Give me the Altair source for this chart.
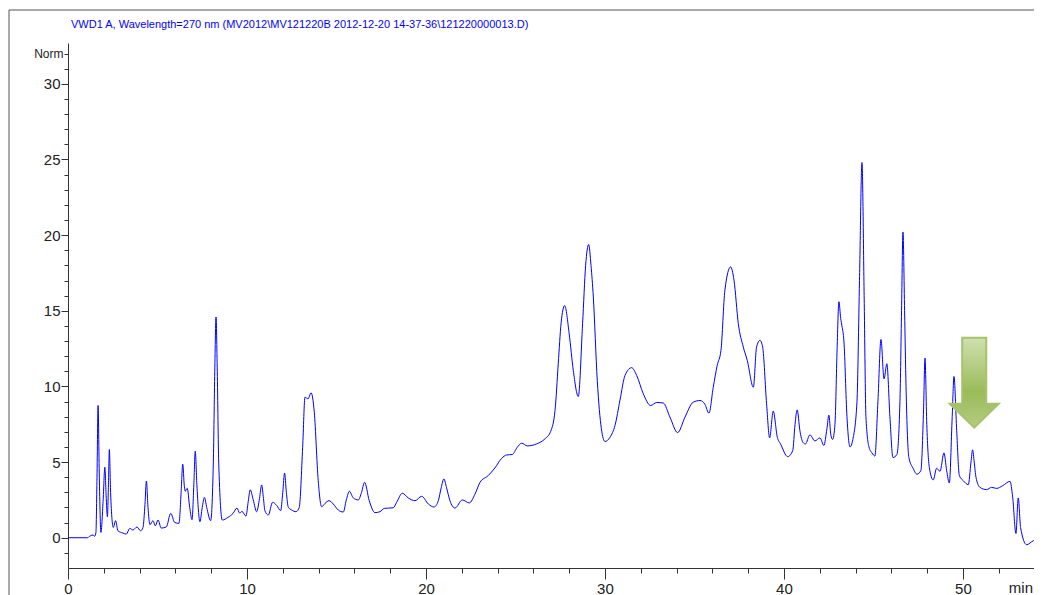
import altair as alt
import pandas as pd

# ---- chromatogram ----
time_min = [0.0, 1.1, 1.21, 1.40, 1.49, 1.56, 1.62, 1.68, 1.75, 1.84, 1.96, 2.06, 2.13, 2.2, 2.26, 2.31,
            2.38, 2.46, 2.53, 2.66, 2.79, 3.07, 3.26, 3.45, 3.63, 3.85, 4.06, 4.19, 4.30, 4.38, 4.47,
            4.58, 4.75, 4.88, 5.03, 5.21, 5.49, 5.74, 5.96, 6.2, 6.32, 6.41, 6.50, 6.55, 6.66, 6.80,
            6.93, 7.03, 7.11, 7.20, 7.37, 7.50, 7.62, 7.75, 7.97, 8.12, 8.20, 8.27, 8.34, 8.42, 8.62,
            8.94, 9.22, 9.44, 9.59, 9.72, 9.94, 10.07, 10.18, 10.35, 10.54, 10.70, 10.82, 10.92, 11.0,
            11.19, 11.43, 11.66, 11.88, 12.0, 12.1, 12.2, 12.31, 12.5, 12.74, 12.92, 13.11, 13.24,
            13.41, 13.58, 13.76, 13.98, 14.17, 14.36, 14.58, 14.82, 15.1, 15.38, 15.55, 15.72, 15.94,
            16.22, 16.40, 16.57, 16.83, 17.15, 17.43, 17.67, 18.17, 18.36, 18.68, 19.01, 19.39, 19.76,
            20.13, 20.45, 20.69, 20.85, 21.0, 21.15, 21.34, 21.62, 22.03, 22.42, 22.74, 23.02, 23.48,
            23.85, 24.23, 24.51, 24.82, 25.1, 25.35, 25.66, 26.18, 26.65, 26.97, 27.21, 27.39, 27.55,
            27.75, 28.0, 28.23, 28.51, 28.75, 28.92, 29.09, 29.22, 29.35, 29.57, 29.8, 30.0, 30.28,
            30.56, 30.84, 31.12, 31.49, 31.77, 32.14, 32.55, 32.89, 33.26, 33.63, 34.06, 34.47, 34.93,
            35.31, 35.59, 35.81, 36.05, 36.27, 36.48, 36.7, 37.02, 37.21, 37.45, 37.73, 37.95, 38.29,
            38.47, 38.66, 38.81, 39.03, 39.2, 39.4, 39.63, 39.81, 40.21, 40.49, 40.62, 40.74, 40.89,
            41.06, 41.2, 41.45, 41.73, 42.01, 42.23, 42.40, 42.51, 42.62, 42.72, 42.85, 42.97, 43.07,
            43.17, 43.24, 43.35, 43.52, 43.69, 43.85, 44.08, 44.22, 44.36, 44.48, 44.58, 44.75, 44.92,
            45.08, 45.25, 45.42, 45.59, 45.75, 45.92, 46.09, 46.31, 46.48, 46.57, 46.65, 46.74, 46.82,
            46.98, 47.21, 47.43, 47.65, 47.80, 47.88, 47.98, 48.12, 48.34, 48.53, 48.72, 48.94, 49.09,
            49.24, 49.40, 49.5, 49.65, 49.8, 50.02, 50.3, 50.45, 50.54, 50.63, 50.73, 50.95, 51.32,
            51.6, 51.88, 52.22, 52.63, 52.78, 52.96, 53.09, 53.22, 53.56, 53.93, 54.4]
signal = [0.0, 0.0, 0.1, 0.18, 0.1, 0.35, 4.0, 8.74, 4.0, 0.35, 2.4, 4.66, 2.8, 1.39, 3.5, 5.83,
          3.0, 1.2, 0.68, 1.13, 0.46, 0.31, 0.24, 0.62, 0.51, 0.71, 0.46, 0.68, 2.2, 3.75, 2.0,
          0.86, 1.13, 0.79, 1.17, 0.64, 0.71, 1.61, 1.01, 0.95, 3.0, 4.86, 3.4, 3.07, 3.27, 2.0,
          1.19, 3.5, 5.72, 3.5, 1.06, 2.0, 2.67, 2.0, 1.13, 5.0, 11.0, 14.59, 11.0, 5.0, 1.17,
          1.35, 1.61, 1.96, 1.63, 1.74, 1.43, 2.4, 3.17, 2.5, 1.72, 2.6, 3.49, 2.6, 1.79,
          1.5, 2.34, 2.14, 1.79, 3.0, 4.28, 3.0, 2.01, 1.83, 1.72, 2.01, 5.98, 9.29,
          9.18, 9.58, 8.3, 3.77, 2.05, 2.27, 2.45, 2.23, 1.83, 1.7, 2.5, 3.07, 2.63,
          2.5, 3.0, 3.66, 2.45, 1.66, 1.72, 1.94, 1.98, 2.34, 2.94, 2.63, 2.45, 2.74,
          2.23, 2.03, 2.45, 3.3, 3.89, 3.3, 2.45, 1.96, 2.5, 2.3, 2.89, 3.66, 4.11,
          4.61, 5.25, 5.47, 5.5, 5.98, 6.25, 6.07, 6.2, 6.54, 7.04, 8.41, 11.5, 14.2,
          15.34, 13.49, 11.06, 9.34, 14.15, 18.0, 19.38, 18.0, 15.91, 10.4, 7.2, 6.36, 6.64,
          7.42, 9.1, 10.73, 11.24, 10.73, 9.52, 8.74, 8.94, 8.9, 7.97, 6.95, 7.97, 8.96,
          9.07, 8.81, 8.23, 9.95, 11.39, 12.38, 16.36, 17.9, 17.02, 14.15, 12.6, 11.72, 9.95,
          12.6, 13.05, 12.6, 8.85, 6.6, 8.37, 6.64, 6.2, 5.36, 5.76, 7.5, 8.45, 7.09,
          6.3, 6.2, 6.8, 6.4, 6.6, 6.1, 7.2, 8.1, 6.8, 6.5, 7.5, 12.5, 15.6,
          14.5, 14.0, 13.0, 8.0, 6.0, 6.5, 9.0, 17.0, 24.8, 16.0, 8.0, 6.0, 5.6,
          5.4, 9.0, 13.1, 10.5, 11.5, 8.0, 5.3, 5.5, 9.0, 15.0, 20.2, 15.0, 10.0,
          5.3, 4.6, 4.2, 4.44, 8.5, 11.87, 7.5, 4.66, 3.82, 4.59, 4.39, 5.61, 4.44,
          3.62, 8.0, 10.66, 7.09, 4.11, 3.77, 3.51, 5.0, 5.81, 5.0, 3.99, 3.33, 3.18,
          3.33, 3.26, 3.44, 3.73, 2.67, 0.28, 2.63, 0.68, -0.46, -0.2, -0.09]

x_tick_values = [0, 2, 4, 6, 8, 10, 12, 14, 16, 18, 20, 22, 24, 26, 28, 30, 32, 34, 36, 38,
                 40, 42, 44, 46, 48, 50, 52]
y_tick_values = [-1, 0, 1, 2, 3, 4, 5, 6, 7, 8, 9, 10, 11, 12, 13, 14, 15, 16, 17, 18, 19, 20,
                 21, 22, 23, 24, 25, 26, 27, 28, 29, 30, 31, 32]
x_domain = [0, 53.97]
y_domain = [-2, 32.7]

title_text = "VWD1 A, Wavelength=270 nm (MV2012\\MV121220B 2012-12-20 14-37-36\\121220000013.D)"
arrow_t = [50.63]
arrow_v = [10.25]

FONT = "Liberation Sans, Arial"

df = pd.DataFrame({"t": time_min, "v": signal})
xs = alt.Scale(domain=x_domain, nice=False, zero=False)
ys = alt.Scale(domain=y_domain, nice=False, zero=False)

x_axis = alt.Axis(
    values=x_tick_values, title=None,
    labelExpr="datum.value % 10 === 0 ? datum.label : ''",
    tickSize={"condition": {"test": "datum.value % 10 === 0", "value": 11}, "value": 5},
    labelPadding=2, labelFlush=False, labelOverlap=False)
y_axis = alt.Axis(
    values=y_tick_values, title=None,
    labelExpr="datum.value === 32 ? 'Norm' : (datum.value % 5 === 0 ? datum.label : '')",
    labelFontSize={"condition": {"test": "datum.value === 32", "value": 12}, "value": 15},
    tickSize={"condition": {"test": "datum.value % 5 === 0", "value": 7}, "value": 4},
    labelPadding=1, labelFlush=False, labelOverlap=False)

line = alt.Chart(df).mark_line(color="#0000ff", strokeWidth=1, interpolate="monotone",
                               clip=True).encode(
    x=alt.X("t:Q", scale=xs, axis=x_axis),
    y=alt.Y("v:Q", scale=ys, axis=y_axis),
)

arrow_path = ("M-0.267,-1 L0.267,-1 L0.267,0.467 L0.544,0.467 L0,1 "
              "L-0.544,0.467 L-0.267,0.467 Z")
arrow_fill = alt.LinearGradient(
    gradient="linear", x1=0, x2=0, y1=0, y2=1,
    stops=[alt.GradientStop(color="#cfe0b0", offset=0),
           alt.GradientStop(color="#9bbb59", offset=0.6),
           alt.GradientStop(color="#b3cc83", offset=1)])
arrow = alt.Chart(pd.DataFrame({"t": arrow_t, "v": arrow_v})).mark_point(
    shape=arrow_path, size=8100, filled=True, fill=arrow_fill, stroke="#a6c26a",
    strokeWidth=2, opacity=1, fillOpacity=1, strokeOpacity=1).encode(
    x=alt.X("t:Q", scale=xs, axis=x_axis),
    y=alt.Y("v:Q", scale=ys, axis=y_axis),
)

one = pd.DataFrame({"k": [0]})
title = alt.Chart(one).mark_text(
    text=title_text, align="left", baseline="alphabetic", font=FONT, fontSize=11,
    color="#0000ff").encode(x=alt.value(3), y=alt.value(-15))
unit = alt.Chart(one).mark_text(
    text="min", align="right", baseline="top", font=FONT, fontSize=15,
    color="#222222").encode(x=alt.value(965), y=alt.value(538))
frame_left = alt.Chart(one).mark_rule(color="#555555", strokeWidth=1).encode(
    x=alt.value(-59), y=alt.value(-33), y2=alt.value(600))
frame_top = alt.Chart(one).mark_rule(color="#555555", strokeWidth=1).encode(
    x=alt.value(-59), x2=alt.value(1000), y=alt.value(-33))

chart = alt.layer(frame_left, frame_top, line, arrow, title, unit).properties(
    width=966, height=525,
    padding={"left": 60, "top": 35, "right": 0, "bottom": 27},
    autosize=alt.AutoSizeParams(type="none"),
    background="white",
).configure_view(stroke=None).configure_axis(
    domainColor="#333333", tickColor="#333333", labelColor="#222222",
    labelFont=FONT, labelFontSize=15, grid=False, domainWidth=1, tickWidth=1,
)

chart.save("out.html", embed_options={"renderer": "svg", "actions": False})
